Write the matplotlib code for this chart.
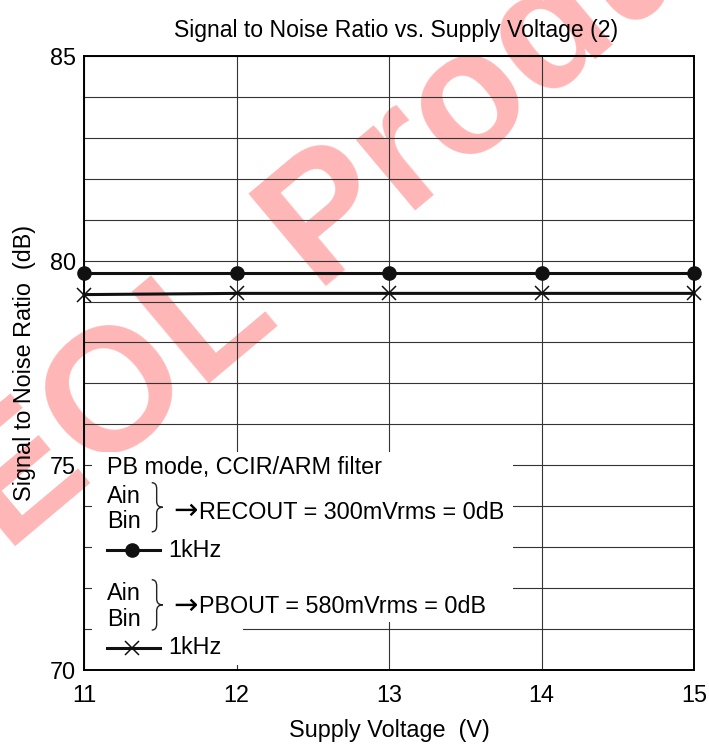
# SNR vs. tensão de alimentação (2)
import matplotlib
matplotlib.use("Agg")
import matplotlib.pyplot as plt
from matplotlib.lines import Line2D
from matplotlib.patches import Rectangle, PathPatch
from matplotlib.path import Path

plt.rcParams["font.family"] = ["Liberation Sans", "DejaVu Sans"]
plt.rcParams["font.size"] = 16.8

# dados
tensao = [11, 12, 13, 14, 15]
snr_recout = [79.7, 79.7, 79.7, 79.7, 79.7]
snr_pbout = [79.17, 79.2, 79.2, 79.2, 79.2]

x_ticks = [11, 12, 13, 14, 15]
y_ticks = [70, 75, 80, 85]
y_grid = list(range(70, 86))

fig = plt.figure(figsize=(7.09, 7.45), dpi=100)
ax = fig.add_axes([0.1185, 0.1007, 0.8604, 0.8242])
ax.patch.set_facecolor("none")

# marca de água
fig.text(0.544, 0.764, "EOL Product", rotation=40, fontsize=126,
         fontweight="bold", color="#ffb6b6", ha="center", va="center",
         zorder=-1)

ax.set_xlim(11, 15)
ax.set_ylim(70, 85)
ax.set_xticks(x_ticks)
ax.set_yticks(y_ticks)
ax.set_yticks(y_grid, minor=True)
ax.tick_params(length=0, which="both")
ax.tick_params(axis="y", pad=6)
ax.tick_params(axis="x", pad=10)
ax.grid(True, which="both", color="#333333", lw=0.8)
ax.set_axisbelow(True)
for s in ax.spines.values():
  s.set_linewidth(1.4)

ax.plot(tensao, snr_recout, color="#111111", lw=2.2, marker="o", ms=9.5,
        zorder=4, clip_on=False)
ax.plot(tensao, snr_pbout, color="#111111", lw=2.2, marker="x", ms=10,
        mew=1.1, zorder=4, clip_on=False)

# caixa da legenda (fundo branco que tapa a grelha)
ax.add_patch(Rectangle((0.013, 0.078), 0.69, 0.277, transform=ax.transAxes,
                       facecolor="white", edgecolor="none", zorder=2))
ax.add_patch(Rectangle((0.013, 0.008), 0.248, 0.072, transform=ax.transAxes,
                       facecolor="white", edgecolor="none", zorder=2))


def chaveta(ax, x0, y0, y1, larg):
  """desenha uma chaveta '}' em coordenadas do eixo"""
  ym = (y0 + y1) / 2
  xm = x0 + larg * 0.45
  x1 = x0 + larg
  r = (y1 - y0) * 0.12
  verts = [(x0, y1), (xm, y1), (xm, y1 - r), (xm, ym + r), (xm, ym), (x1, ym),
           (xm, ym), (xm, ym - r), (xm, y0 + r), (xm, y0), (x0, y0)]
  codes = [Path.MOVETO, Path.CURVE3, Path.CURVE3, Path.LINETO, Path.CURVE3,
           Path.CURVE3, Path.CURVE3, Path.CURVE3, Path.LINETO, Path.CURVE3,
           Path.CURVE3]
  ax.add_patch(PathPatch(Path(verts, codes), transform=ax.transAxes,
                         facecolor="none", edgecolor="#222222", lw=1.0,
                         zorder=5))


tx = 0.0377
kw = dict(transform=ax.transAxes, va="center", ha="left", zorder=5)
seta = dict(transform=ax.transAxes, va="center", ha="left", zorder=5,
            family="DejaVu Sans", fontsize=21)
ax.text(tx, 0.329, "PB mode, CCIR/ARM filter", **kw)
ax.text(tx, 0.282, "Ain", **kw)
ax.text(tx, 0.241, "Bin", **kw)
ax.text(0.146, 0.259, "\u2192", **seta)
ax.text(0.189, 0.257, "RECOUT = 300mVrms = 0dB", **kw)
chaveta(ax, 0.111, 0.225, 0.305, 0.018)
ax.add_line(Line2D([0.0377, 0.125], [0.195, 0.195], transform=ax.transAxes,
                   color="#111111", lw=2.2, zorder=5))
ax.add_line(Line2D([0.078], [0.195], transform=ax.transAxes, marker="o",
                   ms=9.5, color="#111111", zorder=5))
ax.text(0.138, 0.195, "1kHz", **kw)

ax.text(tx, 0.125, "Ain", **kw)
ax.text(tx, 0.083, "Bin", **kw)
ax.text(0.146, 0.105, "\u2192", **seta)
ax.text(0.189, 0.103, "PBOUT = 580mVrms = 0dB", **kw)
chaveta(ax, 0.111, 0.065, 0.147, 0.018)
ax.add_line(Line2D([0.0377, 0.125], [0.036, 0.036], transform=ax.transAxes,
                   color="#111111", lw=2.2, zorder=5))
ax.add_line(Line2D([0.078], [0.036], transform=ax.transAxes, marker="x",
                   ms=10, mew=1.1, color="#111111", zorder=5))
ax.text(0.138, 0.036, "1kHz", **kw)

ax.set_title("Signal to Noise Ratio vs. Supply Voltage (2)", fontsize=16.6,
             pad=14, x=0.512)
ax.set_xlabel("Supply Voltage  (V)", labelpad=9)
ax.set_ylabel("Signal to Noise Ratio  (dB)")
ax.yaxis.set_label_coords(-0.078, 0.5)

fig.savefig("out.png", dpi=100)
